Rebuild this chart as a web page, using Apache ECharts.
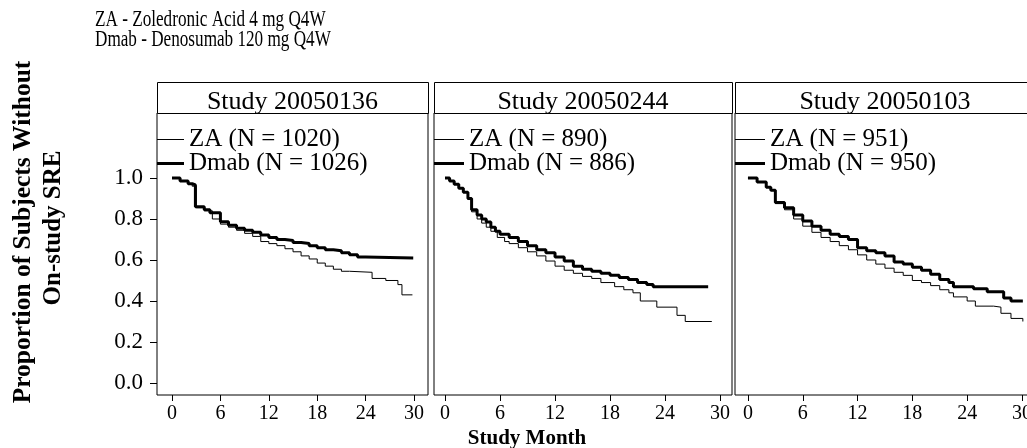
<!DOCTYPE html>
<html>
<head>
<meta charset="utf-8">
<script src="https://cdn.jsdelivr.net/npm/echarts@6/dist/echarts.min.js"></script>
<style>
  html, body { margin: 0; padding: 0; background: #fff; }
  #chart { width: 1027px; height: 448px; }
</style>
</head>
<body>
<div id="chart"></div>
<script>
// --- данные ---
const studies = ["Study 20050136", "Study 20050244", "Study 20050103"];
const zaN = [1020, 890, 951];
const dmabN = [1026, 886, 950];
const xTicks = [0, 6, 12, 18, 24, 30];
const yTicks = [0, 0.2, 0.4, 0.6, 0.8, 1.0];

// Study 20050136
const za136Month = [0, 1, 2, 2.5, 3, 4, 5, 6, 7, 8, 9, 10, 11, 12, 13, 14, 15, 16, 17, 18, 19, 20, 21, 22, 24.8, 26.5, 28, 28.5, 29.8];
const za136Surv = [1.00, 0.985, 0.97, 0.96, 0.855, 0.84, 0.80, 0.775, 0.76, 0.745, 0.73, 0.715, 0.69, 0.68, 0.67, 0.655, 0.64, 0.62, 0.605, 0.585, 0.57, 0.555, 0.545, 0.54, 0.51, 0.50, 0.48, 0.43, 0.43];
const dm136Month = [0, 1, 2, 2.5, 2.9, 4, 4.7, 6, 7, 8, 9, 10, 11, 12, 13, 14, 15, 16, 17, 18, 19, 20, 21, 22, 23, 24, 29.9];
const dm136Surv = [1.00, 0.985, 0.972, 0.966, 0.86, 0.845, 0.83, 0.787, 0.77, 0.755, 0.745, 0.735, 0.722, 0.71, 0.70, 0.695, 0.685, 0.68, 0.67, 0.66, 0.65, 0.645, 0.635, 0.625, 0.615, 0.61, 0.61];

// Study 20050244
const za244Month = [0, 0.5, 1, 1.5, 2, 2.5, 2.9, 3.5, 4, 4.5, 5, 5.7, 6.5, 7, 8, 9, 10, 11, 12, 13, 14, 15, 16, 17, 18.5, 19.5, 20.5, 21.3, 23.1, 25.3, 26.2, 29.1];
const za244Surv = [1.00, 0.985, 0.97, 0.95, 0.93, 0.895, 0.835, 0.80, 0.78, 0.76, 0.74, 0.71, 0.69, 0.68, 0.66, 0.64, 0.62, 0.595, 0.57, 0.55, 0.535, 0.52, 0.51, 0.49, 0.47, 0.455, 0.44, 0.40, 0.37, 0.33, 0.30, 0.30];
const dm244Month = [0, 0.5, 1, 1.5, 2, 2.5, 2.9, 3.5, 4, 4.5, 5, 5.5, 6, 7, 8, 9, 10, 11, 12, 13, 14, 15, 16, 17, 18, 19, 20, 21, 22, 22.7, 28.7];
const dm244Surv = [1.00, 0.985, 0.97, 0.95, 0.93, 0.90, 0.845, 0.82, 0.80, 0.785, 0.76, 0.74, 0.725, 0.71, 0.69, 0.67, 0.65, 0.635, 0.615, 0.595, 0.57, 0.555, 0.545, 0.535, 0.525, 0.515, 0.505, 0.49, 0.48, 0.47, 0.47];

// Study 20050103
const za103Month = [0, 1, 2, 2.5, 3, 4, 5, 6, 7, 8, 9, 10, 11, 12, 13, 14, 15, 16, 17, 18, 19, 20, 21, 22, 22.5, 24, 24.9, 26.9, 27.7, 28.8, 30.1];
const za103Surv = [1.00, 0.98, 0.955, 0.94, 0.875, 0.845, 0.80, 0.765, 0.735, 0.71, 0.69, 0.67, 0.65, 0.625, 0.60, 0.58, 0.56, 0.54, 0.525, 0.50, 0.49, 0.475, 0.455, 0.44, 0.42, 0.40, 0.375, 0.37, 0.34, 0.315, 0.30];
const dm103Month = [0, 1, 2, 2.5, 3, 4, 5, 6, 7, 8, 9, 10, 11, 12, 13, 14, 15, 16, 17, 18, 19, 20, 21, 22, 22.5, 24.7, 26.2, 28, 28.8, 30.1];
const dm103Surv = [1.00, 0.98, 0.955, 0.94, 0.88, 0.855, 0.82, 0.79, 0.765, 0.745, 0.725, 0.715, 0.70, 0.66, 0.645, 0.635, 0.62, 0.59, 0.58, 0.565, 0.55, 0.53, 0.505, 0.49, 0.47, 0.46, 0.445, 0.415, 0.40, 0.40];

const zaCurves = [[za136Month, za136Surv], [za244Month, za244Surv], [za103Month, za103Surv]];
const dmCurves = [[dm136Month, dm136Surv], [dm244Month, dm244Surv], [dm103Month, dm103Surv]];

// --- раскладка панелей (пиксели) ---
const FONT = '"Liberation Serif", "Times New Roman", serif';
const GRID_TOP = 113;
const GRID_H = 282;
const panels = [
  { left: 157, width: 271, xMin: -1.86, xMax: 31.73, swatch: 27 },
  { left: 434, width: 298, xMin: -1.2, xMax: 31.3, swatch: 30 },
  { left: 735, width: 300, xMin: -1.42, xMax: 31.43, swatch: 30 }
];

const zip = (xs, ys) => xs.map((x, i) => [x, ys[i]]);

const txt = (text, x, y, size, extra) => Object.assign({
  type: "text", x: x, y: y,
  style: {
    text: text, fill: "#000", fontFamily: FONT, fontSize: size,
    align: "center", verticalAlign: "middle",
    textAlign: "center", textVerticalAlign: "middle"
  }
}, extra || {});

const graphics = [];
// заголовок (сжатый по горизонтали, как в скане)
const t1 = txt("ZA - Zoledronic Acid 4 mg Q4W", 95, 20, 23.5, { scaleX: 0.73 });
const t2 = txt("Dmab - Denosumab 120 mg Q4W", 95, 39.5, 23.5, { scaleX: 0.73 });
[t1, t2].forEach(t => { t.style.align = "left"; t.style.textAlign = "left"; graphics.push(t); });

// полосы с названиями исследований
panels.forEach((p, i) => {
  graphics.push({
    type: "rect",
    shape: { x: p.left + 0.5, y: 82.5, width: p.width, height: GRID_TOP - 82 },
    style: { fill: "#fff", stroke: "#000", lineWidth: 1 }
  });
  graphics.push(txt(studies[i], p.left + p.width / 2, 102, 26));
});

// подписи осей
const yName1 = txt("Proportion of Subjects Without", 23, 232, 25.5, { rotation: Math.PI / 2 });
const yName2 = txt("On-study SRE", 54, 228, 25, { rotation: Math.PI / 2 });
const xName = txt("Study Month", 527, 438.5, 21);
[yName1, yName2, xName].forEach(t => { t.style.fontWeight = "bold"; graphics.push(t); });

const option = {
  backgroundColor: "#fff",
  animation: false,
  grid: panels.map(p => ({
    left: p.left, top: GRID_TOP, width: p.width, height: GRID_H,
    show: true, borderColor: "#000", borderWidth: 1,
    backgroundColor: "transparent", containLabel: false, outerBoundsMode: "none"
  })),
  xAxis: panels.map((p, i) => ({
    type: "value", gridIndex: i, min: p.xMin, max: p.xMax,
    axisLine: { show: false, onZero: false },
    splitLine: { show: false },
    axisTick: { show: true, length: 6, customValues: xTicks, lineStyle: { color: "#000" } },
    axisLabel: { customValues: xTicks, margin: 9, color: "#000", fontFamily: FONT, fontSize: 20 }
  })),
  yAxis: panels.map((p, i) => ({
    type: "value", gridIndex: i, min: -0.0585, max: 1.317,
    show: i === 0,
    axisLine: { show: false, onZero: false },
    splitLine: { show: false },
    axisTick: { show: true, length: 7, customValues: yTicks, lineStyle: { color: "#000" } },
    axisLabel: {
      customValues: yTicks, margin: 14, color: "#000", fontFamily: FONT, fontSize: 23,
      formatter: v => v.toFixed(1)
    }
  })),
  legend: [],
  series: [],
  graphic: { elements: graphics }
};

panels.forEach((p, i) => {
  const zaName = "ZA (N = " + zaN[i] + ")";
  const dmName = "Dmab (N = " + dmabN[i] + ")";
  [[zaName, 1, 127], [dmName, 3, 151]].forEach(([name, h, top]) => {
    option.legend.push({
      left: p.left, top: top, padding: 0, icon: "rect",
      itemWidth: p.swatch, itemHeight: h, selectedMode: false,
      data: [name],
      textStyle: { color: "#000", fontFamily: FONT, fontSize: 25 }
    });
  });
  option.series.push({
    type: "line", name: zaName, xAxisIndex: i, yAxisIndex: i,
    step: "end", symbol: "none", silent: true, color: "#000",
    lineStyle: { color: "#000", width: 1 },
    data: zip(zaCurves[i][0], zaCurves[i][1])
  });
  option.series.push({
    type: "line", name: dmName, xAxisIndex: i, yAxisIndex: i,
    step: "end", symbol: "none", silent: true, color: "#000",
    lineStyle: { color: "#000", width: 3 },
    data: zip(dmCurves[i][0], dmCurves[i][1])
  });
});

const chart = echarts.init(document.getElementById("chart"));
chart.setOption(option);
</script>
</body>
</html>
